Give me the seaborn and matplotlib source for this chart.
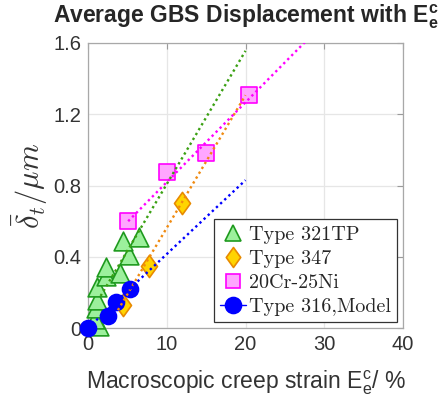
import numpy as np
import pandas as pd
import matplotlib
matplotlib.use("Agg")
import matplotlib.pyplot as plt
import seaborn as sns
from matplotlib.lines import Line2D
from matplotlib.path import Path
from matplotlib.markers import MarkerStyle

# ---------------- data ----------------
series_names = ["Type 321TP", "Type 347", "20Cr-25Ni", "Type 316,Model"]

x_321 = [1.4, 0.9, 1.0, 1.1, 1.2, 2.3, 2.3, 4.1, 5.2, 4.5, 6.5]
y_321 = [0.01, 0.05, 0.11, 0.16, 0.23, 0.29, 0.34, 0.31, 0.41, 0.49, 0.51]

x_347 = [4.4, 7.8, 11.9]
y_347 = [0.13, 0.35, 0.70]

x_2025 = [5.1, 10.0, 15.0, 20.5]
y_2025 = [0.60, 0.875, 0.98, 1.31]

x_316 = [0.0, 2.5, 3.6, 5.3]
y_316 = [0.0, 0.07, 0.145, 0.22]

# dotted trend lines: y = slope*x + intercept over [x_start, x_end]
fit_slope = [0.0748, 0.0745, 0.0448, 0.0415]
fit_intercept = [0.06, -0.183, 0.371, 0.0]
fit_x_start = [1.6, 3.8, 5.1, 0.0]
fit_x_end = [20.0, 20.0, 30.0, 20.0]

x_ticks = [0, 10, 20, 30, 40]
y_ticks = [0, 0.4, 0.8, 1.2, 1.6]
y_tick_labels = ["0", "0.4", "0.8", "1.2", "1.6"]

# ---------------- style ----------------
sns.set_style("whitegrid")
plt.rcParams["font.family"] = ["Liberation Sans", "DejaVu Sans"]
plt.rcParams["mathtext.fontset"] = "custom"
plt.rcParams["mathtext.rm"] = "Liberation Sans"
plt.rcParams["mathtext.it"] = "Liberation Sans:italic"
plt.rcParams["mathtext.bf"] = "Liberation Sans:bold"

face = ["#9cf09c", "#ffd400", "#ffa6ff", "#0000ff"]
edge = ["#1e9a1e", "#e88a00", "#ff00ff", "#0000ff"]
line_col = ["#3aa012", "#f08a10", "#ff00ff", "#0000ff"]

diamond = MarkerStyle(Path([(0, 1), (0.72, 0), (0, -1), (-0.72, 0), (0, 1)],
                           [Path.MOVETO, Path.LINETO, Path.LINETO, Path.LINETO, Path.CLOSEPOLY]))
markers = ["^", diamond, "s", "o"]
msize = [13.5, 16, 11.5, 11.5]

fig = plt.figure(figsize=(4.44, 4.07), dpi=100)
ax = fig.add_axes([88 / 444, 1 - 328 / 407, (403 - 88) / 444, (328 - 43) / 407])

xs = [x_321, x_347, x_2025, x_316]
ys = [y_321, y_347, y_2025, y_316]

for i in range(4):
    df = pd.DataFrame({"x": xs[i], "y": ys[i]})
    sns.scatterplot(data=df, x="x", y="y", ax=ax, marker=markers[i],
                    s=msize[i] ** 2, color=face[i], edgecolor=edge[i],
                    linewidth=1.2, zorder=3 + i * 0.1, clip_on=False, legend=False)

for i in range(4):
    lx = np.array([fit_x_start[i], fit_x_end[i]])
    ly = fit_slope[i] * lx + fit_intercept[i]
    sns.lineplot(x=lx, y=ly, ax=ax, color=line_col[i], lw=1.7,
                 linestyle=(0, (1, 1.4)), zorder=5, sort=False)

ax.set_xlim(0, 40)
ax.set_ylim(0, 1.6)
ax.set_xticks(x_ticks)
ax.set_yticks(y_ticks)
ax.set_yticklabels(y_tick_labels)
ax.tick_params(axis="both", labelsize=14.5, labelcolor="#333333", colors="#9a9a9a",
               direction="in", length=4, width=0.8, top=True, right=True,
               pad=5)
ax.tick_params(axis="both", labelcolor="#333333")
for sp in ax.spines.values():
    sp.set_color("#a8a8a8")
    sp.set_linewidth(0.9)
ax.grid(True, color="#e6e6e6", lw=0.9)

ax.set_xlabel(r"Macroscopic creep strain $\mathrm{E^{c}_{e}}$/ %", fontsize=16.5,
              color="#333333", labelpad=10)
ax.set_ylabel(r"$\bar{\delta}_t/\mu m$", fontsize=22, color="#333333",
              math_fontfamily="cm", labelpad=2)
ax.set_title(r"Average GBS Displacement with $\mathbf{E^{c}_{e}}$",
             fontsize=16.5, fontweight="bold", pad=15)

handles = []
for i in range(4):
    ls = "-" if i == 3 else "none"
    handles.append(Line2D([], [], marker=markers[i], markersize=msize[i] * (0.9 if i < 3 else 1.0),
                          markerfacecolor=face[i], markeredgecolor=edge[i],
                          markeredgewidth=1.2, color=edge[i], linestyle=ls, lw=1))
leg = ax.legend(handles, series_names, loc="lower right",
                bbox_to_anchor=(0.981, 0.021), borderaxespad=0,
                prop={"family": "cmr10", "size": 14.5}, frameon=True,
                fancybox=False, framealpha=1, edgecolor="#333333",
                handlelength=1.3, handletextpad=0.15, labelspacing=0.3,
                borderpad=0.3)
leg.get_frame().set_linewidth(0.9)
leg.set_zorder(10)

fig.savefig("out.png", dpi=100)
